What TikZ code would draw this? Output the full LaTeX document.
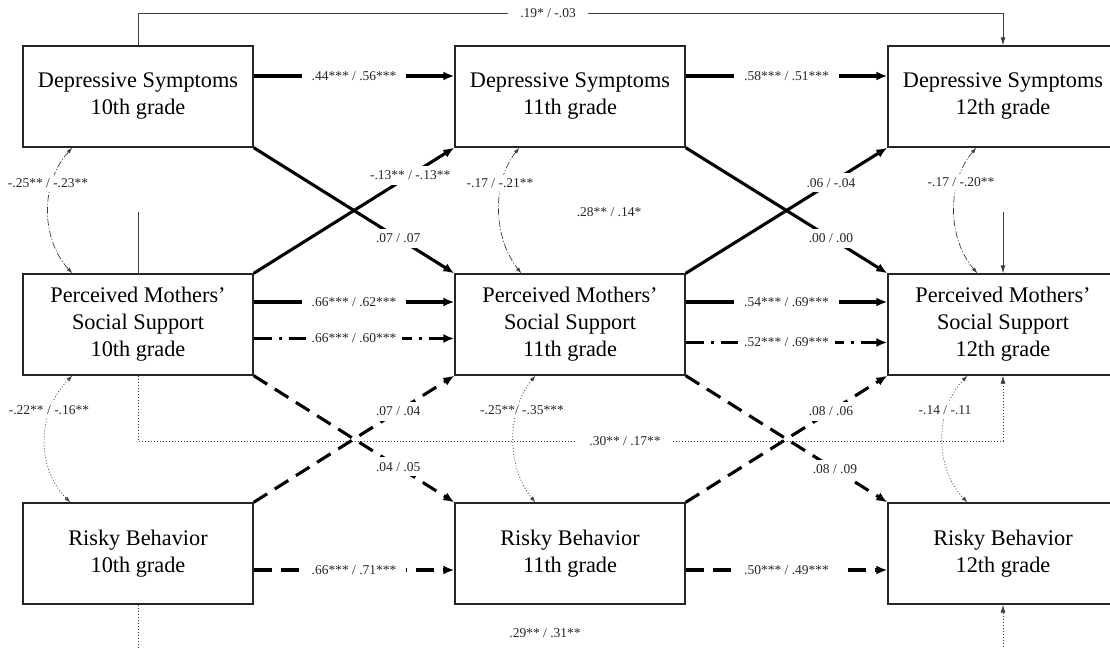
\documentclass[tikz,border=0pt]{standalone}
\usepackage{fontspec}
\setmainfont{Liberation Serif}
\usetikzlibrary{arrows.meta}

\begin{document}
\begin{tikzpicture}[x=1pt,y=-1pt,
  var/.style={draw=black!85, line width=1.3pt, minimum width=230pt, minimum height=101pt,
    inner sep=0pt, align=center, font=\fontsize{22.3}{27}\selectfont},
  coef/.style={fill=white, text=black!85, font=\fontsize{13.5}{15}\selectfont, inner xsep=8pt, inner ysep=1pt},
  slant/.style={coef, inner xsep=5pt, inner ysep=5pt},
  heavy/.style={line width=3.1pt, -{Latex[length=11pt,width=9pt]}},
  crossdash/.style={heavy, dash pattern=on 16pt off 9pt},
  rowdash/.style={heavy, dash pattern=on 18pt off 9pt},
  rowdashdot/.style={heavy, dash pattern=on 18pt off 7pt on 3pt off 7pt},
  thinline/.style={line width=0.8pt, draw=black!75},
  thinarrow/.style={thinline, -{Latex[length=8pt,width=5pt]}},
  dotline/.style={line width=0.8pt, draw=black!75, dash pattern=on 1.2pt off 1.8pt},
  dotarrow/.style={dotline, -{Latex[length=8pt,width=5pt]}},
  cov/.style={line width=0.7pt, draw=black!75, {Latex[length=6pt,width=4pt]}-{Latex[length=6pt,width=4pt]}},
  covdd/.style={cov, dash pattern=on 7pt off 2pt on 1pt off 2pt},
  covdot/.style={cov, dash pattern=on 1pt off 2pt}]

\useasboundingbox (0,0) rectangle (1110,648);
\clip (0,0) rectangle (1110,648);

% variables: three waves, three constructs
\node[var] (ds10)  at (138,96.5)  {Depressive Symptoms\\10th grade};
\node[var] (ds11)  at (570,96.5)  {Depressive Symptoms\\11th grade};
\node[var] (ds12)  at (1003,96.5) {Depressive Symptoms\\12th grade};
\node[var] (pms10) at (138,324.5)  {Perceived Mothers'\\Social Support\\10th grade};
\node[var] (pms11) at (570,324.5)  {Perceived Mothers'\\Social Support\\11th grade};
\node[var] (pms12) at (1003,324.5) {Perceived Mothers'\\Social Support\\12th grade};
\node[var] (rb10)  at (138,553.5)  {Risky Behavior\\10th grade};
\node[var] (rb11)  at (570,553.5)  {Risky Behavior\\11th grade};
\node[var] (rb12)  at (1003,553.5) {Risky Behavior\\12th grade};

% long-range paths from wave 10 to wave 12
\coordinate (t1) at (138,13);
\coordinate (t2) at (1003,13);
\draw[thinarrow] (ds10.north) -- (t1) -- node[coef,pos=0.474,inner xsep=12pt] {.19* / -.03} (t2) -- (ds12.north);

\coordinate (m1) at (138,212);
\coordinate (m2) at (1003,212);
\draw[thinline] (pms10.north) -- (m1);
\draw[thinarrow] (m2) -- (pms12.north);
\node[coef] (c28) at (609,212) {.28** / .14*};

\coordinate (d1) at (138,441);
\coordinate (d2) at (1003,441);
\draw[dotarrow] (pms10.south) -- (d1) -- node[coef,pos=0.563,inner xsep=12pt] {.30** / .17**} (d2) -- (pms12.south);

\coordinate (b1) at (138,650);
\coordinate (b2) at (1003,650);
\draw[dotline] (rb10.south) -- (b1);
\draw[dotarrow] (b2) -- (rb12.south);
\node[coef] (c29) at (545,633) {.29** / .31**};

% stability paths
\draw[heavy] ([yshift=20.5pt]ds10.east) -- node[coef,inner xsep=10pt] {.44*** / .56***} ([yshift=20.5pt]ds11.west);
\draw[heavy] ([yshift=20.5pt]ds11.east) -- node[coef,inner xsep=10pt] {.58*** / .51***} ([yshift=20.5pt]ds12.west);
\draw[heavy] ([yshift=22.5pt]pms10.east) -- node[coef,inner xsep=10pt] {.66*** / .62***} ([yshift=22.5pt]pms11.west);
\draw[heavy] ([yshift=22.5pt]pms11.east) -- node[coef,inner xsep=10pt] {.54*** / .69***} ([yshift=22.5pt]pms12.west);
\draw[rowdashdot] ([yshift=-14pt]pms10.east) -- node[coef,inner xsep=6pt] {.66*** / .60***} ([yshift=-14pt]pms11.west);
\draw[rowdashdot] ([yshift=-18pt]pms11.east) -- node[coef,inner xsep=6pt] {.52*** / .69***} ([yshift=-18pt]pms12.west);
\draw[rowdash] ([yshift=-16.5pt]rb10.east) -- node[coef,inner xsep=10pt] {.66*** / .71***} ([yshift=-16.5pt]rb11.west);
\draw[rowdash] ([yshift=-16.5pt]rb11.east) -- node[coef,inner xsep=10pt] {.50*** / .49***} ([yshift=-16.5pt]rb12.west);

% cross-lagged paths, depressive symptoms <-> support
\draw[heavy] (ds10.south east) -- node[slant,pos=0.72] {.07 / .07} (pms11.north west);
\draw[heavy] (pms10.north east) -- node[slant,pos=0.78] {-.13** / -.13**} (ds11.south west);
\draw[heavy] (ds11.south east) -- node[slant,pos=0.72] {.00 / .00} (pms12.north west);
\draw[heavy] (pms11.north east) -- node[slant,pos=0.72] {.06 / -.04} (ds12.south west);

% cross-lagged paths, support <-> risky behavior
\draw[crossdash] (pms10.south east) -- node[slant,pos=0.72] {.04 / .05} (rb11.north west);
\draw[crossdash] (rb10.north east) -- node[slant,pos=0.72] {.07 / .04} (pms11.south west);
\draw[crossdash] (pms11.south east) -- node[slant,pos=0.74] {.08 / .09} (rb12.north west);
\draw[crossdash] (rb11.north east) -- node[slant,pos=0.72] {.08 / .06} (pms12.south west);

% within-wave covariances
\draw[covdd] ([xshift=50pt]ds10.south west) .. controls +(-32,35) and +(-32,-35) .. ([xshift=50pt]pms10.north west);
\draw[covdd] ([xshift=65pt]ds11.south west) .. controls +(-28,35) and +(-28,-35) .. ([xshift=67pt]pms11.north west);
\draw[covdd] ([xshift=89pt]ds12.south west) .. controls +(-30,35) and +(-30,-35) .. ([xshift=90pt]pms12.north west);
\draw[covdot] ([xshift=50pt]pms10.south west) .. controls +(-35,35) and +(-35,-35) .. ([xshift=48pt]rb10.north west);
\draw[covdot] ([xshift=81pt]pms11.south west) .. controls +(-29,35) and +(-29,-35) .. ([xshift=81pt]rb11.north west);
\draw[covdot] ([xshift=80pt]pms12.south west) .. controls +(-33,35) and +(-33,-35) .. ([xshift=80pt]rb12.north west);

\node[coef,inner xsep=2pt,inner ysep=3pt] (r1) at (48,183)  {-.25** / -.23**};
\node[coef,inner xsep=2pt,inner ysep=3pt] (r2) at (500,183) {-.17 / -.21**};
\node[coef,inner xsep=2pt,inner ysep=3pt] (r3) at (961,182) {-.17 / -.20**};
\node[coef,inner xsep=2pt,inner ysep=3pt] (r4) at (49,410)  {-.22** / -.16**};
\node[coef,inner xsep=2pt,inner ysep=3pt] (r5) at (522,410) {-.25**/ -.35***};
\node[coef,inner xsep=2pt,inner ysep=3pt] (r6) at (945,410) {-.14 / -.11};

\end{tikzpicture}
\end{document}
